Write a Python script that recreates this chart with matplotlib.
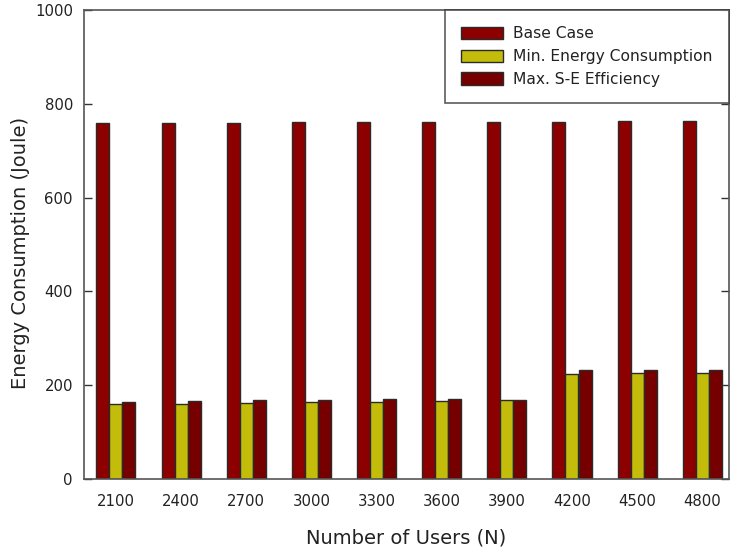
import matplotlib
matplotlib.use("Agg")
import matplotlib.pyplot as plt
import numpy as np

plt.rcParams['font.family'] = ['DejaVu Sans']

users = ["2100", "2400", "2700", "3000", "3300", "3600", "3900", "4200", "4500", "4800"]
base_case = [759.5, 760, 760, 760.5, 760.5, 761, 761.5, 762, 762.5, 763]
min_energy = [160, 160.5, 163, 165, 165, 167, 168, 224, 225, 226.5]
max_se = [165, 165.5, 168, 169, 170, 170, 169.5, 232, 232, 233]

fig = plt.figure(figsize=(7.31, 5.56), dpi=100)
ax = fig.add_axes([84/731, 1-479/556, (729-84)/731, (479-10)/556])

x = np.arange(len(users))
w = 0.2
ec = '#2a2a2a'
ax.bar(x - w, base_case, w, color='#8c0000', edgecolor=ec, linewidth=1.0, label='Base Case')
ax.bar(x, min_energy, w, color='#c4bc0a', edgecolor=ec, linewidth=1.0, label='Min. Energy Consumption')
ax.bar(x + w, max_se, w, color='#760000', edgecolor=ec, linewidth=1.0, label='Max. S-E Efficiency')

ax.set_xlim(-0.49, 9.41)
ax.set_ylim(0, 1000)
ax.set_xticks(x)
ax.set_xticklabels(users)
ax.set_yticks([0, 200, 400, 600, 800, 1000])
ax.tick_params(axis='both', direction='in', top=True, right=True, labelsize=10.7,
               length=6, width=1, color='#333333', pad=8, labelcolor='#222222')
ax.tick_params(axis='x', length=0, pad=11)
for s in ax.spines.values():
    s.set_color('#555555')
    s.set_linewidth(1.2)

ax.set_xlabel('Number of Users (N)', fontsize=14, labelpad=14, color='#222222')
ax.set_ylabel('Energy Consumption (Joule)', fontsize=14, color='#222222', va='center')
ax.yaxis.set_label_coords(-0.098, 0.482)

leg = ax.legend(loc='upper right', fontsize=11.2, frameon=True, fancybox=False,
                edgecolor='#333333', borderaxespad=0.0, handlelength=2.7, handleheight=0.84,
                borderpad=1.05, labelspacing=0.5, handletextpad=0.64)
leg.get_frame().set_linewidth(1.2)
for t in leg.get_texts():
    t.set_color('#222222')

fig.savefig('out.png', dpi=100)
